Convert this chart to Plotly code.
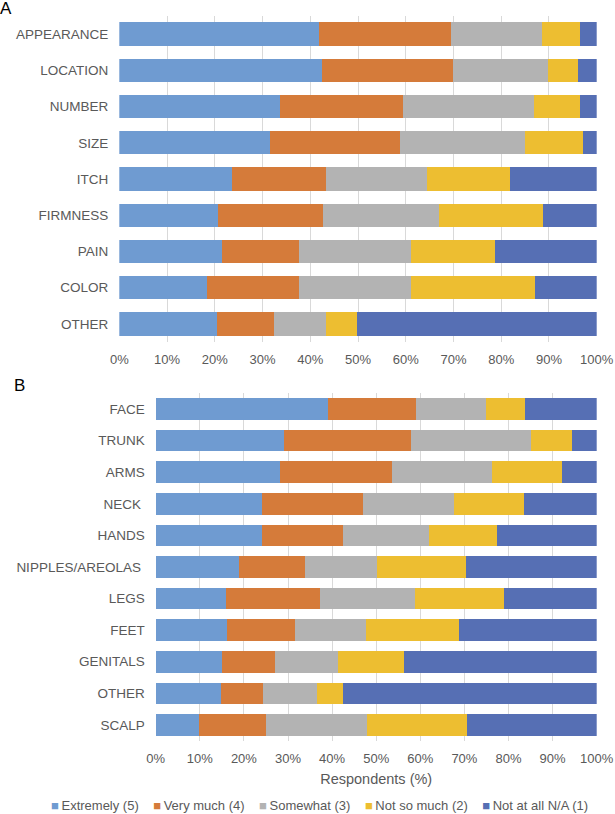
import plotly.graph_objects as go

W, H = 615, 814

series_names = ["Extremely (5)", "Very much (4)", "Somewhat (3)", "Not so much (2)", "Not at all N/A (1)"]
series_colors = ["#6F9BD1", "#D57B3A", "#B3B3B3", "#EDBE31", "#566FB4"]

cats_A = ["APPEARANCE", "LOCATION", "NUMBER", "SIZE", "ITCH", "FIRMNESS", "PAIN", "COLOR", "OTHER"]
A_extremely = [41.9, 42.4, 33.6, 31.5, 23.7, 20.6, 21.6, 18.4, 20.4]
A_very_much = [27.6, 27.5, 25.8, 27.4, 19.6, 22.0, 16.1, 19.3, 11.9]
A_somewhat = [19.0, 19.9, 27.5, 26.0, 21.2, 24.4, 23.4, 23.4, 10.9]
A_not_so_much = [7.9, 6.3, 9.7, 12.3, 17.3, 21.8, 17.6, 26.0, 6.6]
A_not_at_all = [3.6, 3.9, 3.4, 2.8, 18.2, 11.2, 21.3, 12.9, 50.2]

cats_B = ["FACE", "TRUNK", "ARMS", "NECK\u00a0", "HANDS", "NIPPLES/AREOLAS\u00a0", "LEGS", "FEET",
          "GENITALS", "OTHER", "SCALP"]
B_extremely = [39.0, 29.0, 28.2, 24.0, 24.1, 19.0, 15.9, 16.2, 15.1, 14.9, 9.8]
B_very_much = [20.1, 28.9, 25.4, 23.1, 18.4, 14.9, 21.3, 15.4, 11.9, 9.4, 15.1]
B_somewhat = [15.8, 27.1, 22.6, 20.6, 19.4, 16.3, 21.7, 16.1, 14.3, 12.2, 23.1]
B_not_so_much = [8.9, 9.4, 16.0, 15.8, 15.5, 20.1, 20.1, 21.1, 15.0, 6.0, 22.5]
B_not_at_all = [16.2, 5.6, 7.8, 16.5, 22.6, 29.7, 21.0, 31.2, 43.7, 57.5, 29.5]

x_ticks = [0, 10, 20, 30, 40, 50, 60, 70, 80, 90, 100]
x_ticktext = [f"{v}%" for v in x_ticks]
x_title = "Respondents (%)"

A_series = [A_extremely, A_very_much, A_somewhat, A_not_so_much, A_not_at_all]
B_series = [B_extremely, B_very_much, B_somewhat, B_not_so_much, B_not_at_all]

FONT = "Liberation Sans, Arial, sans-serif"
GREY = "#595959"

fig = go.Figure()
for name, col, vals in zip(series_names, series_colors, A_series):
    fig.add_trace(go.Bar(y=cats_A, x=vals, name=name, orientation="h", marker=dict(color=col, line=dict(width=0)),
                         width=0.645, xaxis="x", yaxis="y", showlegend=False))
for name, col, vals in zip(series_names, series_colors, B_series):
    fig.add_trace(go.Bar(y=cats_B, x=vals, name=name, orientation="h", marker=dict(color=col, line=dict(width=0)),
                         width=0.685, xaxis="x2", yaxis="y2", showlegend=False))

def px_x(p):
    return p / W

def px_y(p):
    return 1 - p / H

common_x = dict(range=[0, 100], tickvals=x_ticks, ticktext=x_ticktext, showgrid=True, gridcolor="#D9D9D9",
                gridwidth=1, zeroline=False, showline=False, ticks="", fixedrange=True, automargin=False,
                tickfont=dict(family=FONT, size=13, color=GREY), ticklabelstandoff=8)
common_y = dict(type="category", autorange="reversed", showgrid=False, zeroline=False, showline=False,
                ticks="", automargin=False, fixedrange=True,
                tickfont=dict(family=FONT, size=13.5, color=GREY), ticklabelstandoff=10)

fig.update_layout(
    template="none",
    width=W, height=H, margin=dict(l=0, r=0, t=0, b=0, pad=0, autoexpand=False),
    paper_bgcolor="white", plot_bgcolor="white",
    barmode="stack",
    xaxis=dict(domain=[px_x(119.3), px_x(596.7)], anchor="y", **common_x),
    yaxis=dict(domain=[px_y(342), px_y(16)], anchor="x", **common_y),
    xaxis2=dict(domain=[px_x(155.7), px_x(596.7)], anchor="y2",
                title=dict(text=x_title, font=dict(family=FONT, size=14.5, color=GREY), standoff=9),
                **common_x),
    yaxis2=dict(domain=[px_y(740.7), px_y(393.3)], anchor="x2", **common_y),
    font=dict(family=FONT, color=GREY),
)

# panel letters
fig.add_annotation(text="A", x=px_x(6), y=px_y(8.5), xref="paper", yref="paper", showarrow=False,
                   xanchor="center", yanchor="middle", font=dict(family=FONT, size=17, color="#000000"))
fig.add_annotation(text="B", x=px_x(19.5), y=px_y(385), xref="paper", yref="paper", showarrow=False,
                   xanchor="center", yanchor="middle", font=dict(family=FONT, size=17, color="#000000"))

# legend row built from series names and colours
parts = []
for name, col in zip(series_names, series_colors):
    parts.append(f"<span style='color:{col}'>\u25a0</span>\u2009{name}")
legend_text = "\u00a0\u00a0\u00a0\u00a0".join(parts)
fig.add_annotation(text=legend_text, x=px_x(319.5), y=px_y(805), xref="paper", yref="paper", showarrow=False,
                   xanchor="center", yanchor="middle", font=dict(family=FONT, size=13, color=GREY))

# the page body has a default 8px margin; remove it so the 615x814 figure fills the window
fig.write_html("out.html", config={"displayModeBar": False},
               post_script="document.body.style.margin='0px';")
